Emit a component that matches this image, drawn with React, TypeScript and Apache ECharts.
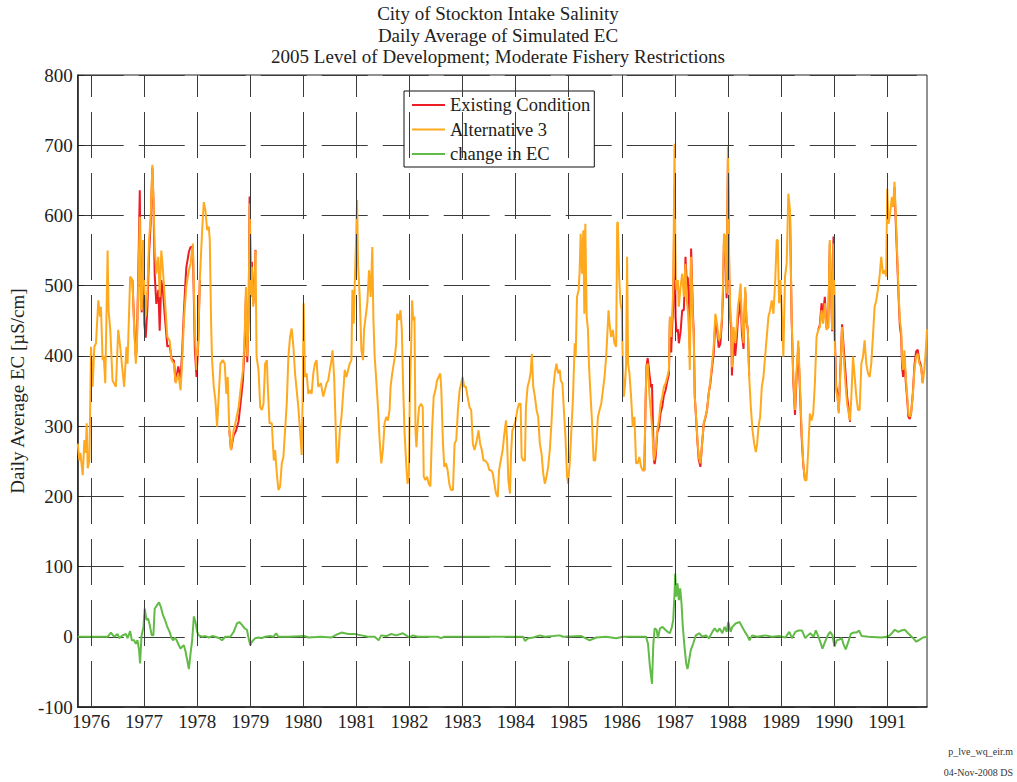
import React, { useEffect, useRef } from "react";
import * as echarts from "echarts";

const FONT = '"Liberation Serif", "Times New Roman", Times, serif';

const TITLE_LINES = [
  "City of Stockton Intake Salinity",
  "Daily Average of Simulated EC",
  "2005 Level of Development; Moderate Fishery Restrictions",
];
const Y_NAME = "Daily Average EC [µS/cm]";
const FOOTER_LINES = ["p_lve_wq_eir.m", "04-Nov-2008 DS"];
const SERIES_NAMES = ["Existing Condition", "Alternative 3", "change in EC"];
const YEAR_TICKS = [1976, 1977, 1978, 1979, 1980, 1981, 1982, 1983, 1984, 1985, 1986, 1987, 1988, 1989, 1990, 1991];

// Alternative 3 (decimal year, EC)
const alternative3: [number, number][] = [
  [1975.75,275],[1975.781,251],[1975.8,262],[1975.844,230],[1975.875,280],[1975.9,262],[1975.919,304],[1975.938,240],[1975.969,251],[1975.988,342],[1976.0,413],[1976.031,356],[1976.063,413],[1976.094,418],[1976.138,479],[1976.169,456],[1976.188,470],[1976.219,394],[1976.24,400],[1976.269,361],[1976.313,550],[1976.331,465],[1976.363,437],[1976.406,365],[1976.469,356],[1976.513,437],[1976.55,413],[1976.581,389],[1976.625,356],[1976.669,413],[1976.688,389],[1976.738,513],[1976.781,508],[1976.813,441],[1976.844,389],[1976.863,408],[1976.894,513],[1976.919,598],[1976.94,470],[1976.956,465],[1976.981,565],[1977.006,494],[1977.031,456],[1977.063,494],[1977.094,565],[1977.125,598],[1977.156,672],[1977.175,626],[1977.2,556],[1977.231,517],[1977.269,541],[1977.294,484],[1977.325,550],[1977.356,522],[1977.388,484],[1977.438,427],[1977.481,422],[1977.519,394],[1977.563,389],[1977.594,361],[1977.644,375],[1977.688,351],[1977.719,394],[1977.75,451],[1977.794,498],[1977.844,522],[1977.875,531],[1977.919,560],[1977.956,437],[1977.988,380],[1978.019,418],[1978.05,508],[1978.094,579],[1978.125,619],[1978.156,607],[1978.188,579],[1978.219,584],[1978.238,565],[1978.263,446],[1978.281,394],[1978.313,356],[1978.344,337],
  [1978.375,299],[1978.406,342],[1978.438,389],[1978.481,394],[1978.519,389],[1978.55,346],[1978.575,370],[1978.606,294],[1978.638,266],[1978.688,294],[1978.731,308],[1978.781,327],[1978.831,361],[1978.863,380],[1978.894,427],[1978.919,498],[1978.944,399],[1978.969,456],[1978.988,617],[1979.013,484],[1979.031,527],[1979.056,470],[1979.081,498],[1979.1,550],[1979.119,399],[1979.156,380],[1979.188,327],[1979.219,323],[1979.25,332],[1979.281,389],[1979.313,394],[1979.331,356],[1979.363,304],[1979.406,304],[1979.444,251],[1979.469,266],[1979.5,233],[1979.531,209],[1979.563,214],[1979.594,247],[1979.625,256],[1979.656,294],[1979.688,332],[1979.719,399],[1979.75,427],[1979.781,439],[1979.813,413],[1979.844,375],[1979.875,351],[1979.906,327],[1979.938,294],[1979.969,259],[1979.988,342],[1980.006,475],[1980.031,370],[1980.063,375],[1980.094,346],[1980.125,351],[1980.156,346],[1980.188,375],[1980.219,389],[1980.25,394],[1980.281,356],[1980.331,361],[1980.375,342],[1980.406,351],[1980.438,361],[1980.469,365],[1980.5,380],[1980.531,394],[1980.55,408],[1980.581,370],[1980.606,308],[1980.631,247],[1980.656,251],[1980.688,294],[1980.719,313],[1980.75,346],[1980.781,380],[1980.813,370],[1980.844,380],[1980.875,389],[1980.906,394],[1980.925,494],[1980.95,446],[1980.969,503],[1980.988,550],[1981.013,622],[1981.031,531],[1981.063,484],[1981.094,408],[1981.125,394],
  [1981.144,437],[1981.175,456],[1981.206,475],[1981.238,522],[1981.269,484],[1981.3,555],[1981.319,456],[1981.344,399],[1981.375,365],[1981.406,327],[1981.438,280],[1981.469,247],[1981.5,266],[1981.531,304],[1981.563,313],[1981.594,308],[1981.625,323],[1981.644,356],[1981.675,375],[1981.694,384],[1981.725,399],[1981.75,418],[1981.769,460],[1981.8,451],[1981.831,465],[1981.856,437],[1981.881,356],[1981.906,294],[1981.938,247],[1981.963,218],[1981.988,228],[1982.006,342],[1982.031,413],[1982.05,479],[1982.069,451],[1982.094,456],[1982.113,294],[1982.131,270],[1982.156,304],[1982.181,327],[1982.219,332],[1982.25,327],[1982.269,228],[1982.3,223],[1982.331,228],[1982.363,218],[1982.394,214],[1982.425,294],[1982.456,342],[1982.488,351],[1982.519,365],[1982.55,370],[1982.581,375],[1982.6,351],[1982.631,275],[1982.656,242],[1982.688,247],[1982.719,237],[1982.75,218],[1982.781,209],[1982.819,209],[1982.85,275],[1982.881,280],[1982.913,323],[1982.944,351],[1982.975,361],[1983.0,370],[1983.031,356],[1983.063,356],[1983.094,342],[1983.131,327],[1983.163,323],[1983.194,275],[1983.225,266],[1983.269,280],[1983.3,294],[1983.331,275],[1983.363,266],[1983.394,251],[1983.425,251],[1983.469,247],[1983.506,237],[1983.538,237],[1983.569,233],[1983.6,218],[1983.631,204],[1983.663,199],[1983.688,237],[1983.719,251],[1983.756,266],[1983.781,285],[1983.819,308],[1983.838,280],
  [1983.863,223],[1983.894,204],[1983.913,261],[1983.938,294],[1983.969,299],[1984.0,308],[1984.031,323],[1984.063,332],[1984.094,332],[1984.113,256],[1984.144,251],[1984.175,251],[1984.194,327],[1984.225,356],[1984.256,365],[1984.281,375],[1984.306,403],[1984.331,356],[1984.363,342],[1984.394,323],[1984.425,313],[1984.456,275],[1984.488,261],[1984.519,233],[1984.55,218],[1984.581,228],[1984.613,242],[1984.644,266],[1984.675,304],[1984.706,351],[1984.738,375],[1984.769,389],[1984.8,375],[1984.831,380],[1984.85,365],[1984.881,361],[1984.906,327],[1984.938,285],[1984.969,228],[1984.988,218],[1985.019,247],[1985.05,294],[1985.081,342],[1985.113,418],[1985.131,399],[1985.156,484],[1985.188,494],[1985.206,522],[1985.225,574],[1985.25,517],[1985.275,579],[1985.294,460],[1985.313,588],[1985.338,456],[1985.363,437],[1985.381,389],[1985.406,351],[1985.438,308],[1985.469,251],[1985.5,251],[1985.525,280],[1985.55,313],[1985.581,323],[1985.613,332],[1985.644,351],[1985.675,370],[1985.706,399],[1985.725,427],[1985.75,465],[1985.769,446],[1985.8,427],[1985.831,437],[1985.863,418],[1985.894,413],[1985.913,588],[1985.925,591],[1985.95,513],[1985.975,475],[1986.0,465],[1986.019,389],[1986.038,342],[1986.063,361],[1986.081,389],[1986.1,541],[1986.119,389],[1986.144,375],[1986.175,342],[1986.206,299],[1986.238,313],[1986.269,247],[1986.3,247],[1986.331,256],[1986.363,242],[1986.394,237],[1986.425,237],[1986.444,318],[1986.463,384],[1986.488,389],[1986.519,346],[1986.55,318],
  [1986.575,294],[1986.606,251],[1986.638,266],[1986.669,294],[1986.7,308],[1986.731,332],[1986.763,342],[1986.794,356],[1986.825,361],[1986.856,370],[1986.888,380],[1986.906,456],[1986.931,427],[1986.95,460],[1986.969,494],[1986.994,702],[1987.013,513],[1987.031,494],[1987.056,508],[1987.075,470],[1987.106,498],[1987.138,517],[1987.169,484],[1987.2,531],[1987.219,484],[1987.244,465],[1987.263,437],[1987.281,380],[1987.306,541],[1987.338,456],[1987.356,427],[1987.375,342],[1987.4,313],[1987.425,280],[1987.45,256],[1987.481,247],[1987.513,275],[1987.544,304],[1987.575,313],[1987.606,323],[1987.638,346],[1987.669,365],[1987.7,389],[1987.731,413],[1987.763,460],[1987.794,446],[1987.825,422],[1987.856,427],[1987.888,456],[1987.906,498],[1987.925,574],[1987.95,570],[1987.975,489],[1988.0,698],[1988.025,522],[1988.044,465],[1988.063,446],[1988.075,384],[1988.106,441],[1988.138,418],[1988.169,446],[1988.188,470],[1988.213,484],[1988.238,503],[1988.263,446],[1988.294,418],[1988.325,498],[1988.35,451],[1988.375,437],[1988.4,370],[1988.431,327],[1988.463,294],[1988.494,275],[1988.525,263],[1988.55,275],[1988.575,299],[1988.606,313],[1988.638,356],[1988.669,370],[1988.7,399],[1988.731,427],[1988.763,456],[1988.794,465],[1988.825,479],[1988.856,460],[1988.888,503],[1988.919,565],[1988.938,565],[1988.963,475],[1988.988,508],[1989.013,465],[1989.044,399],[1989.075,513],[1989.106,531],[1989.138,631],[1989.169,607],[1989.2,456],
  [1989.231,370],[1989.263,323],[1989.294,380],[1989.325,422],[1989.356,361],[1989.388,294],[1989.419,247],[1989.45,223],[1989.481,223],[1989.513,266],[1989.544,318],[1989.575,308],[1989.606,318],[1989.638,361],[1989.669,427],[1989.7,437],[1989.731,441],[1989.763,465],[1989.794,446],[1989.825,475],[1989.856,437],[1989.888,441],[1989.919,565],[1989.938,508],[1989.963,437],[1989.988,560],[1990.013,418],[1990.038,351],[1990.063,342],[1990.088,318],[1990.119,380],[1990.15,441],[1990.181,399],[1990.213,361],[1990.244,332],[1990.275,318],[1990.3,308],[1990.325,342],[1990.356,399],[1990.388,370],[1990.419,342],[1990.45,323],[1990.481,323],[1990.513,389],[1990.544,399],[1990.575,422],[1990.606,389],[1990.638,375],[1990.669,370],[1990.7,389],[1990.731,427],[1990.763,470],[1990.794,479],[1990.825,494],[1990.856,513],[1990.888,541],[1990.919,517],[1990.95,522],[1990.981,513],[1991.0,638],[1991.025,588],[1991.056,603],[1991.088,626],[1991.113,612],[1991.138,648],[1991.163,598],[1991.188,546],[1991.213,494],[1991.238,451],[1991.263,437],[1991.281,394],[1991.3,380],[1991.325,408],[1991.35,370],[1991.375,346],[1991.4,318],[1991.425,313],[1991.45,318],[1991.481,342],[1991.513,380],[1991.544,399],[1991.575,403],[1991.606,389],[1991.638,384],[1991.669,361],[1991.7,380],[1991.731,413],[1991.75,438],
];

// Existing Condition, where it departs from Alternative 3 (elsewhere it lies under it)
const existing1977: [number, number][] = [
  [1976.781,508],[1976.813,446],[1976.844,399],[1976.863,415],[1976.894,528],[1976.919,636],[1976.94,480],[1976.956,462],[1976.981,553],[1977.006,445],[1977.031,426],[1977.063,469],[1977.094,545],[1977.125,590],[1977.156,668],[1977.175,624],[1977.2,516],[1977.231,474],[1977.269,494],[1977.294,436],[1977.325,508],[1977.356,491],[1977.388,459],[1977.438,413],[1977.481,415],[1977.519,396],[1977.563,393],[1977.594,363],[1977.644,385],[1977.688,368],[1977.719,408],[1977.75,463],[1977.794,525],[1977.844,548],[1977.875,555],[1977.919,555],[1977.956,409],[1977.988,370],[1978.019,415],[1978.05,508],
];
const existing1979: [number, number][] = [
  [1978.606,294],[1978.638,266],[1978.688,287],[1978.731,293],[1978.781,307],[1978.831,342],[1978.863,365],[1978.894,415],[1978.919,487],[1978.944,391],[1978.969,458],[1978.988,627],[1979.013,494],[1979.031,534],[1979.056,474],[1979.081,500],[1979.1,551],
];
const existing1987: [number, number][] = [
  [1986.394,237],[1986.425,237],[1986.444,318],[1986.463,384],[1986.488,397],[1986.519,376],[1986.55,355],[1986.569,360],[1986.594,280],[1986.606,251],[1986.619,246],[1986.638,256],[1986.669,291],[1986.7,298],[1986.731,319],[1986.763,328],[1986.794,344],[1986.825,351],[1986.856,363],[1986.888,374],[1986.906,451],[1986.931,405],[1986.95,444],[1986.969,470],[1986.994,640],[1987.013,455],[1987.031,434],[1987.056,438],[1987.075,418],[1987.106,433],[1987.138,465],[1987.169,465],[1987.2,541],[1987.219,513],[1987.244,511],[1987.263,477],[1987.281,410],[1987.306,553],[1987.338,466],[1987.356,432],[1987.375,342],[1987.4,311],[1987.425,278],[1987.45,252],[1987.481,242],[1987.513,275],[1987.544,303],[1987.575,312],[1987.606,323],[1987.638,347],[1987.669,361],[1987.7,383],[1987.731,403],[1987.763,449],[1987.794,437],[1987.825,412],[1987.856,417],[1987.888,450],[1987.906,488],[1987.925,562],[1987.95,559],[1987.975,482],[1988.0,680],[1988.025,508],[1988.044,455],[1988.063,434],[1988.075,372],[1988.106,427],[1988.138,400],[1988.169,428],[1988.188,452],[1988.213,463],[1988.238,484],[1988.263,431],[1988.294,410],[1988.325,493],[1988.35,449],[1988.375,437],[1988.4,372],
];
const existing1989: [number, number][] = [
  [1989.169,601],[1989.2,452],[1989.231,364],[1989.263,316],[1989.294,372],[1989.325,413],[1989.356,352],[1989.388,285],[1989.419,245],[1989.45,224],
];
const existing1990: [number, number][] = [
  [1989.7,437],[1989.731,444],[1989.763,475],[1989.794,460],[1989.825,484],[1989.856,440],[1989.888,440],[1989.919,560],[1989.938,504],[1989.963,435],[1989.988,570],[1990.013,430],[1990.038,358],[1990.063,346],[1990.088,321],[1990.119,383],[1990.15,445],[1990.181,412],[1990.213,378],[1990.244,343],[1990.275,323],[1990.3,306],
];
const existing1991: [number, number][] = [
  [1991.113,612],[1991.138,640],[1991.163,588],[1991.188,538],[1991.213,487],[1991.238,443],[1991.263,428],[1991.281,384],[1991.3,370],[1991.325,398],[1991.35,363],[1991.375,340],[1991.4,313],[1991.425,310],[1991.45,318],[1991.481,344],[1991.513,386],[1991.544,406],[1991.575,409],[1991.606,393],[1991.638,386],[1991.669,362],
];
const existingSegments = [existing1977, existing1979, existing1987, existing1989, existing1990, existing1991];

// change in EC (Alternative 3 minus Existing Condition)
const changeInEC: [number, number][] = [
  [1975.75,0],[1976.313,0],[1976.375,6],[1976.438,0],[1976.5,4],[1976.531,-2],[1976.594,2],[1976.656,4],[1976.688,-2],[1976.738,8],[1976.769,-5],[1976.813,-5],[1976.844,-10],[1976.875,-5],[1976.906,-19],[1976.925,-38],[1976.95,0],[1976.988,14],[1977.013,40],[1977.044,24],[1977.075,26],[1977.106,17],[1977.144,2],[1977.175,2],[1977.2,40],[1977.244,45],[1977.281,49],[1977.313,43],[1977.356,31],[1977.394,24],[1977.438,14],[1977.481,7],[1977.519,-2],[1977.55,-5],[1977.581,-1],[1977.613,-5],[1977.656,-12],[1977.688,-17],[1977.719,-14],[1977.75,-12],[1977.781,-21],[1977.813,-33],[1977.844,-46],[1977.875,-24],[1977.906,-5],[1977.938,29],[1977.969,21],[1978.0,7],[1978.031,2],[1978.094,0],[1978.156,1],[1978.219,-1],[1978.281,1],[1978.344,0],[1978.419,-2],[1978.469,-5],[1978.531,0],[1978.625,0],[1978.688,7],[1978.75,19],[1978.794,21],[1978.844,17],[1978.894,12],[1978.938,10],[1978.969,-2],[1979.0,-12],[1979.031,-7],[1979.094,-2],[1979.156,-1],[1979.219,-2],[1979.281,0],[1979.375,1],[1979.438,0],[1979.488,5],[1979.531,0],[1979.719,0],[1980.031,1],[1980.094,-1],[1980.344,0],[1980.531,-1],[1980.656,4],[1980.719,6],[1980.844,4],[1980.969,4],[1981.094,2],[1981.219,0],[1981.344,0],[1981.419,-5],[1981.469,2],[1981.563,1],[1981.656,4],[1981.75,2],[1981.875,5],[1981.938,2],[1982.0,-1],[1982.063,2],[1982.156,0],[1982.531,0],[1982.594,-2],[1982.656,0],[1984.144,0],[1984.175,-6],[1984.238,-2],[1984.331,-1],[1984.456,2],[1984.55,0],[1984.706,1],[1984.831,2],[1984.894,0],[1985.238,1],[1985.394,-5],[1985.519,-1],[1985.706,0],[1985.894,-2],[1986.019,0],[1986.456,0],[1986.494,-10],[1986.531,-43],[1986.569,-67],[1986.594,-10],[1986.619,12],[1986.656,10],[1986.681,-2],[1986.719,12],[1986.769,14],[1986.819,10],[1986.863,7],[1986.906,5],[1986.944,14],[1986.969,24],[1986.994,62],[1987.006,90],[1987.025,57],[1987.05,76],[1987.075,52],[1987.1,69],[1987.125,48],[1987.15,14],[1987.181,-14],[1987.213,-38],[1987.238,-46],[1987.269,-33],[1987.3,-19],[1987.344,-10],[1987.394,2],[1987.456,5],[1987.519,0],[1987.581,2],[1987.644,-2],[1987.706,7],[1987.75,12],[1987.8,7],[1987.844,12],[1987.894,5],[1987.938,14],[1987.975,7],[1988.006,21],[1988.05,7],[1988.081,14],[1988.144,19],[1988.219,21],[1988.269,14],[1988.319,7],[1988.363,2],[1988.406,-5],[1988.456,2],[1988.55,0],[1988.706,2],[1988.831,0],[1988.956,1],[1989.081,-1],[1989.156,7],[1989.206,-2],[1989.269,7],[1989.331,9],[1989.394,9],[1989.456,-2],[1989.506,2],[1989.55,5],[1989.613,0],[1989.656,9],[1989.694,2],[1989.738,-7],[1989.781,-17],[1989.831,-7],[1989.881,2],[1989.925,7],[1989.969,2],[1990.006,-14],[1990.05,-5],[1990.094,-4],[1990.144,-2],[1990.175,-10],[1990.219,-18],[1990.269,-7],[1990.313,4],[1990.363,6],[1990.425,6],[1990.469,9],[1990.519,1],[1990.644,0],[1990.894,-1],[1990.988,0],[1991.05,2],[1991.144,10],[1991.206,7],[1991.269,9],[1991.331,10],[1991.394,5],[1991.488,-2],[1991.55,-7],[1991.613,-4],[1991.675,-1],[1991.75,0],
];

const COLORS = { existing: "#ee1c25", alt: "#ffa91e", change: "#62bb46" };
const GRID_COLOR = "#3a3a3a";
const DASH = [46, 15];

export default function App() {
  const ref = useRef<HTMLDivElement>(null);

  useEffect(() => {
    if (!ref.current) return;
    const chart = echarts.init(ref.current, null, { renderer: "svg" });

    const lineBase = {
      type: "line",
      showSymbol: false,
      symbol: "none",
      silent: true,
      emphasis: { disabled: true },
      animation: false,
    };

    const existingSeries = existingSegments.map((seg, i) => ({
      ...lineBase,
      name: SERIES_NAMES[0],
      color: COLORS.existing,
      lineStyle: { color: COLORS.existing, width: 2 },
      data: seg,
      ...(i === 0
        ? {
            markLine: {
              silent: true,
              symbol: ["none", "none"],
              label: { show: false },
              animation: false,
              lineStyle: { color: GRID_COLOR, width: 1, type: DASH },
              data: YEAR_TICKS.map((y) => ({ xAxis: y })),
            },
          }
        : {}),
    }));

    const option: any = {
      animation: false,
      backgroundColor: "#ffffff",
      textStyle: { fontFamily: FONT },
      grid: {
        left: 72,
        top: 75,
        width: 855,
        height: 632,
        show: true,
        borderColor: "#222",
        borderWidth: 1,
        backgroundColor: "transparent",
      },
      xAxis: {
        type: "value",
        min: 1975.75,
        max: 1991.75,
        axisLine: { show: true, onZero: false, lineStyle: { color: "#222", width: 1.5 } },
        axisTick: { show: true, inside: true, length: 6, customValues: YEAR_TICKS, lineStyle: { color: "#222" } },
        axisLabel: {
          customValues: YEAR_TICKS,
          fontSize: 19,
          fontFamily: FONT,
          color: "#222",
          margin: 5,
          formatter: (v: number) => String(Math.round(v)),
        },
        splitLine: { show: false },
      },
      yAxis: {
        type: "value",
        min: -100,
        max: 800,
        interval: 100,
        name: Y_NAME,
        nameLocation: "middle",
        nameGap: 44,
        nameTextStyle: { fontSize: 19, fontFamily: FONT, color: "#222" },
        axisLine: { show: true, lineStyle: { color: "#222", width: 1.5 } },
        axisTick: { show: true, inside: true, length: 6, lineStyle: { color: "#222" } },
        axisLabel: { fontSize: 19, fontFamily: FONT, color: "#222", margin: 5, formatter: (v: number) => String(v) },
        splitLine: { show: true, lineStyle: { color: GRID_COLOR, width: 1, type: DASH } },
      },
      legend: {
        orient: "vertical",
        left: 404,
        top: 91,
        padding: [4, 4, 3, 8],
        itemGap: 4.5,
        itemWidth: 33,
        itemHeight: 2,
        selectedMode: false,
        backgroundColor: "#ffffff",
        borderColor: "#111",
        borderWidth: 1,
        borderRadius: 0,
        textStyle: { fontSize: 18.5, fontFamily: FONT, color: "#222", lineHeight: 20 },
        data: SERIES_NAMES.map((n) => ({ name: n, icon: "rect" })),
      },
      graphic: [
        ...TITLE_LINES.map((t, i) => ({
          type: "text",
          x: 498,
          y: 13.5 + i * 21.7,
          silent: true,
          style: {
            text: t,
            fill: "#222",
            fontSize: 19,
            fontFamily: FONT,
            textAlign: "center",
            align: "center",
            textVerticalAlign: "middle",
            verticalAlign: "middle",
          },
        })),
        ...FOOTER_LINES.map((t, i) => ({
          type: "text",
          x: 1013,
          y: 751 + i * 21,
          silent: true,
          style: {
            text: t,
            fill: "#333",
            fontSize: 10,
            fontFamily: FONT,
            textAlign: "right",
            align: "right",
            textVerticalAlign: "middle",
            verticalAlign: "middle",
          },
        })),
      ],
      series: [
        ...existingSeries,
        {
          ...lineBase,
          name: SERIES_NAMES[1],
          color: COLORS.alt,
          lineStyle: { color: COLORS.alt, width: 2 },
          data: alternative3,
        },
        {
          ...lineBase,
          name: SERIES_NAMES[2],
          color: COLORS.change,
          lineStyle: { color: COLORS.change, width: 2 },
          data: changeInEC,
        },
      ],
    };

    chart.setOption(option);
    return () => chart.dispose();
  }, []);

  return (
    <div
      ref={ref}
      style={{ position: "fixed", left: 0, top: 0, width: 1017, height: 782, background: "#fff" }}
    />
  );
}
